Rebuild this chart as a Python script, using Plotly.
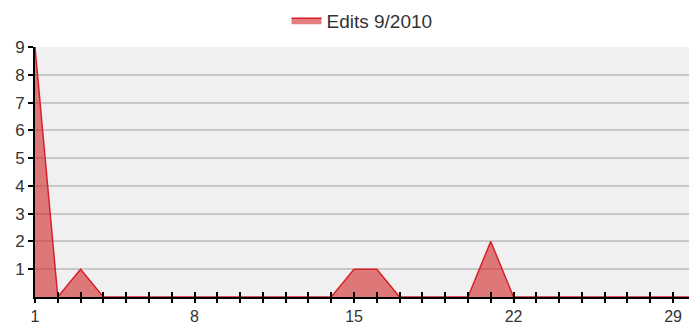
import plotly.graph_objects as go

# ── Data ─────────────────────────────────────────────
days = list(range(1, 31))
edits = [9, 0, 1, 0, 0, 0, 0, 0, 0, 0,
         0, 0, 0, 0, 1, 1, 0, 0, 0, 0,
         2, 0, 0, 0, 0, 0, 0, 0, 0, 0]
x_labels = {1: "1", 8: "8", 15: "15", 22: "22", 29: "29"}

FONT = "Liberation Sans, Arial, sans-serif"

fig = go.Figure()

fig.add_trace(go.Scatter(
    x=days, y=edits,
    name="Edits 9/2010",
    mode="lines",
    fill="tozeroy",
    fillcolor="rgba(210,40,40,0.6)",
    line=dict(color="#d8202a", width=1.5),
))

# invisible helper trace for the inside tick marks on the x axis
fig.add_trace(go.Scatter(
    x=days, y=edits, xaxis="x2", mode="lines",
    line=dict(width=0), showlegend=False, hoverinfo="skip",
))

fig.update_layout(
    width=689, height=324,
    margin=dict(l=35, r=0, t=47, b=27, autoexpand=False),
    paper_bgcolor="white",
    plot_bgcolor="#f0f0f0",
    font=dict(family=FONT, color="#333333", size=17),
    showlegend=True,
    legend=dict(orientation="h", x=0.5, xanchor="center",
                y=1.03, yanchor="bottom",
                font=dict(size=19, color="#333333")),
    xaxis=dict(
        range=[1, 29.7],
        tickvals=days,
        ticktext=[x_labels.get(d, "") for d in days],
        tickfont=dict(size=16),
        ticks="outside", ticklen=4, tickwidth=1.5, tickcolor="black",
        showline=True, linecolor="black", linewidth=2,
        showgrid=False, zeroline=False, automargin=False,
        layer="above traces",
    ),
    xaxis2=dict(
        overlaying="x", range=[1, 29.7],
        tickvals=days, showticklabels=False,
        ticks="inside", ticklen=5, tickwidth=1.5, tickcolor="black",
        showgrid=False, zeroline=False, showline=False,
        side="bottom", anchor="y", automargin=False,
        layer="above traces",
    ),
    yaxis=dict(
        range=[0, 9],
        tickvals=list(range(1, 10)),
        ticks="outside", ticklen=5, tickwidth=1.5, tickcolor="black",
        showline=True, linecolor="black", linewidth=2,
        showgrid=True, gridcolor="#c8c8c8", gridwidth=1.5,
        zeroline=False, automargin=False,
        layer="above traces",
    ),
)

# the page body has a default 8px margin; drop it so the figure sits at 0,0
fig.write_html("out.html", config={"displayModeBar": False},
               post_script="document.body.style.margin='0';")
